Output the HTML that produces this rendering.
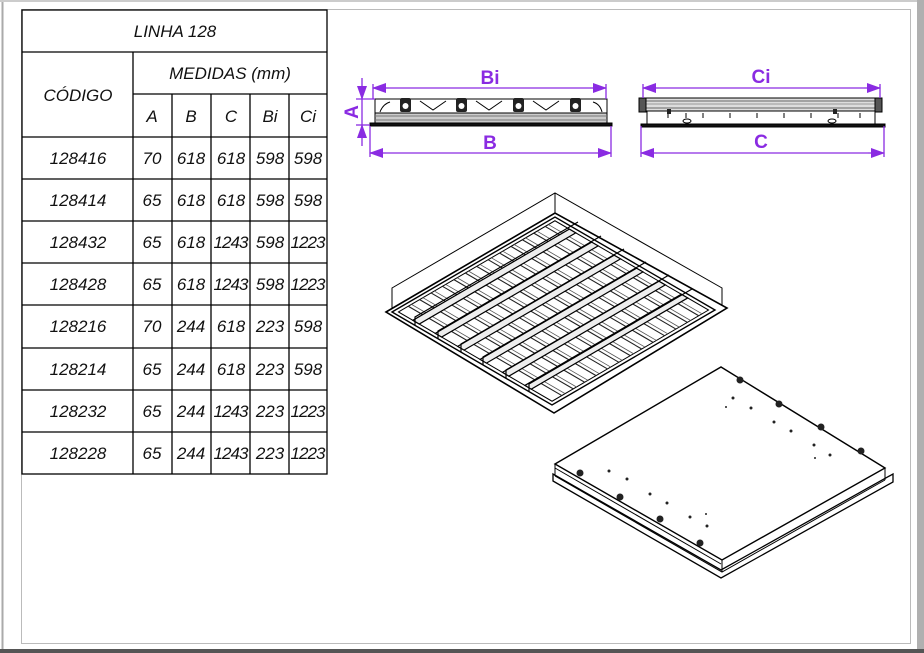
<!DOCTYPE html>
<html><head><meta charset="utf-8"><style>
html,body{margin:0;padding:0;background:#fff;width:924px;height:653px;overflow:hidden}
svg{display:block}
.t{font-family:"Liberation Sans",sans-serif;font-style:italic;font-size:17px;fill:#111;text-anchor:middle}
.p{font-family:"Liberation Sans",sans-serif;font-weight:bold;font-size:19px;fill:#8a2be2;text-anchor:middle}
</style></head><body>
<svg width="924" height="653" viewBox="0 0 924 653" xmlns="http://www.w3.org/2000/svg">
<defs>
<marker id="ar" markerWidth="14" markerHeight="10" refX="13" refY="5" orient="auto" markerUnits="userSpaceOnUse"><path d="M0,0 L14,5 L0,10 Z" fill="#8a2be2"/></marker>
</defs>
<rect x="0" y="0" width="924" height="653" fill="#fff"/>
<line x1="2.5" y1="0" x2="2.5" y2="653" stroke="#aaa" stroke-width="2"/>
<line x1="0" y1="1" x2="924" y2="1" stroke="#ccc" stroke-width="2"/>
<rect x="917" y="0" width="7" height="653" fill="#b0b0b0"/>
<rect x="0" y="649" width="924" height="4" fill="#555"/>
<rect x="21.5" y="9.5" width="889" height="634" fill="none" stroke="#bbb" stroke-width="1"/>

<g stroke="#000" stroke-width="1.3" fill="none">
<rect x="22" y="10" width="305" height="464"/>
<line x1="22" y1="52" x2="327" y2="52"/>
<line x1="133" y1="94" x2="327" y2="94"/>
<line x1="133" y1="52" x2="133" y2="474"/>
<line x1="172" y1="94" x2="172" y2="474"/>
<line x1="211" y1="94" x2="211" y2="474"/>
<line x1="250" y1="94" x2="250" y2="474"/>
<line x1="289" y1="94" x2="289" y2="474"/>
<line x1="22" y1="137" x2="327" y2="137"/>
<line x1="22" y1="179" x2="327" y2="179"/>
<line x1="22" y1="221" x2="327" y2="221"/>
<line x1="22" y1="263" x2="327" y2="263"/>
<line x1="22" y1="305" x2="327" y2="305"/>
<line x1="22" y1="348" x2="327" y2="348"/>
<line x1="22" y1="390" x2="327" y2="390"/>
<line x1="22" y1="432" x2="327" y2="432"/>
</g>
<text class="t" x="175" y="37">LINHA 128</text>
<text class="t" x="230" y="79">MEDIDAS (mm)</text>
<text class="t" x="78" y="101">CÓDIGO</text>
<text class="t" x="152" y="122">A</text><text class="t" x="191" y="122">B</text><text class="t" x="231" y="122">C</text><text class="t" x="270" y="122">Bi</text><text class="t" x="308" y="122">Ci</text>
<text class="t" x="78" y="164">128416</text><text class="t" x="152" y="164">70</text><text class="t" x="191" y="164">618</text><text class="t" x="231" y="164">618</text><text class="t" x="270" y="164">598</text><text class="t" x="308" y="164">598</text>
<text class="t" x="78" y="206">128414</text><text class="t" x="152" y="206">65</text><text class="t" x="191" y="206">618</text><text class="t" x="231" y="206">618</text><text class="t" x="270" y="206">598</text><text class="t" x="308" y="206">598</text>
<text class="t" x="78" y="248">128432</text><text class="t" x="152" y="248">65</text><text class="t" x="191" y="248">618</text><text class="t" x="231" y="248" textLength="35">1243</text><text class="t" x="270" y="248">598</text><text class="t" x="308" y="248" textLength="35">1223</text>
<text class="t" x="78" y="290">128428</text><text class="t" x="152" y="290">65</text><text class="t" x="191" y="290">618</text><text class="t" x="231" y="290" textLength="35">1243</text><text class="t" x="270" y="290">598</text><text class="t" x="308" y="290" textLength="35">1223</text>
<text class="t" x="78" y="332">128216</text><text class="t" x="152" y="332">70</text><text class="t" x="191" y="332">244</text><text class="t" x="231" y="332">618</text><text class="t" x="270" y="332">223</text><text class="t" x="308" y="332">598</text>
<text class="t" x="78" y="375">128214</text><text class="t" x="152" y="375">65</text><text class="t" x="191" y="375">244</text><text class="t" x="231" y="375">618</text><text class="t" x="270" y="375">223</text><text class="t" x="308" y="375">598</text>
<text class="t" x="78" y="417">128232</text><text class="t" x="152" y="417">65</text><text class="t" x="191" y="417">244</text><text class="t" x="231" y="417" textLength="35">1243</text><text class="t" x="270" y="417">223</text><text class="t" x="308" y="417" textLength="35">1223</text>
<text class="t" x="78" y="459">128228</text><text class="t" x="152" y="459">65</text><text class="t" x="191" y="459">244</text><text class="t" x="231" y="459" textLength="35">1243</text><text class="t" x="270" y="459">223</text><text class="t" x="308" y="459" textLength="35">1223</text>

<!-- elevation 1 -->
<g stroke="#000" fill="none" stroke-width="1">
<rect x="375" y="99" width="232" height="14" fill="#fff"/>
<rect x="375" y="113" width="232" height="11" fill="#ccc"/>
<line x1="375" y1="116" x2="607" y2="116" stroke="#777"/>
<line x1="375" y1="120" x2="607" y2="120" stroke="#777"/>
<rect x="370" y="123" width="242" height="3" fill="#111"/>
<path d="M420,101 L433,110 L446,101 M476,101 L489,110 L502,101 M533,101 L546,110 L559,101"/>
<path d="M380,112 Q383,104 390,102 M602,112 Q600,104 593,102"/>
</g>
<g fill="#222">
<rect x="400" y="98" width="11" height="14" rx="2"/><rect x="456" y="98" width="11" height="14" rx="2"/><rect x="513" y="98" width="11" height="14" rx="2"/><rect x="570" y="98" width="11" height="14" rx="2"/>
</g>
<g fill="#fff"><circle cx="405.5" cy="106" r="3"/><circle cx="461.5" cy="106" r="3"/><circle cx="518.5" cy="106" r="3"/><circle cx="575.5" cy="106" r="3"/></g>
<!-- elevation 2 -->
<g stroke="#000" fill="none" stroke-width="1">
<rect x="644" y="98" width="233" height="13" fill="#ddd"/>
<line x1="644" y1="101" x2="877" y2="101" stroke="#666"/>
<line x1="644" y1="104" x2="877" y2="104" stroke="#999"/>
<line x1="644" y1="108" x2="877" y2="108" stroke="#666"/>
<rect x="647" y="111" width="228" height="14" fill="#fff"/>
<rect x="641" y="124" width="244" height="3" fill="#111"/>
<rect x="639" y="98" width="7" height="14" fill="#555"/>
<rect x="875" y="98" width="7" height="14" fill="#555"/>
<path d="M668,113v5 M686,113v5 M703,113v5 M730,113v5 M757,113v5 M784,113v5 M811,113v5 M838,113v5 M860,113v5"/>
<ellipse cx="687" cy="121" rx="4" ry="2"/><ellipse cx="832" cy="121" rx="4" ry="2"/>
</g>
<rect x="667" y="109" width="4" height="5" fill="#222"/><rect x="833" y="109" width="4" height="5" fill="#222"/>

<g stroke="#8a2be2" stroke-width="1.3" fill="none">
<line x1="389" y1="88" x2="373" y2="88" marker-end="url(#ar)"/><line x1="590" y1="88" x2="606" y2="88" marker-end="url(#ar)"/><line x1="389" y1="88" x2="590" y2="88"/>
<line x1="386" y1="153" x2="370" y2="153" marker-end="url(#ar)"/><line x1="595" y1="153" x2="611" y2="153" marker-end="url(#ar)"/><line x1="386" y1="153" x2="595" y2="153"/>
<line x1="659" y1="88" x2="643" y2="88" marker-end="url(#ar)"/><line x1="864" y1="88" x2="880" y2="88" marker-end="url(#ar)"/><line x1="659" y1="88" x2="864" y2="88"/>
<line x1="657" y1="153" x2="641" y2="153" marker-end="url(#ar)"/><line x1="868" y1="153" x2="884" y2="153" marker-end="url(#ar)"/><line x1="657" y1="153" x2="868" y2="153"/>
<line x1="362" y1="78" x2="362" y2="99" marker-end="url(#ar)"/><line x1="362" y1="146" x2="362" y2="125" marker-end="url(#ar)"/><line x1="362" y1="99" x2="362" y2="125"/>
<line x1="356" y1="99" x2="375" y2="99"/><line x1="356" y1="125" x2="370" y2="125"/>
<line x1="370" y1="126" x2="370" y2="157"/><line x1="611" y1="126" x2="611" y2="157"/>
<line x1="641" y1="126" x2="641" y2="157"/><line x1="884" y1="126" x2="884" y2="157"/>
<line x1="373" y1="84" x2="373" y2="99"/><line x1="606" y1="84" x2="606" y2="99"/>
<line x1="643" y1="84" x2="643" y2="98"/><line x1="880" y1="84" x2="880" y2="98"/>
</g>
<text class="p" x="490" y="84">Bi</text>
<text class="p" x="490" y="149">B</text>
<text class="p" x="761" y="83">Ci</text>
<text class="p" x="761" y="148">C</text>
<text class="p" x="0" y="0" transform="translate(358,112) rotate(-90)">A</text>

<!-- isometric 1 (louvre) -->
<g stroke="#000" fill="none" stroke-width="1">
<path d="M392,310 L392,288 L555,193 L722,288 L722,306"/>
<line x1="555" y1="193" x2="555" y2="213"/>
<path d="M386,312 L555,213 L727,308 L554,413 Z" fill="#fff" stroke-width="1.6"/>
</g>
<g transform="matrix(1.63,-0.95,1.60,0.93,392,312)" fill="none" stroke="#000">
<rect x="0" y="0" width="100" height="100" stroke-width="1.4" vector-effect="non-scaling-stroke"/>
<rect x="2" y="2" width="96" height="96" stroke-width="1" vector-effect="non-scaling-stroke"/>
<path vector-effect="non-scaling-stroke" stroke="#222" stroke-width="1.1" d="M8,2V98 M15,2V98 M22,2V98 M29,2V98 M36,2V98 M43,2V98 M50,2V98 M57,2V98 M64,2V98 M71,2V98 M78,2V98 M85,2V98 M92,2V98"/>
<path vector-effect="non-scaling-stroke" stroke="#555" stroke-width="0.8" d="M10,2V98 M17,2V98 M24,2V98 M31,2V98 M38,2V98 M45,2V98 M52,2V98 M59,2V98 M66,2V98 M73,2V98 M80,2V98 M87,2V98 M94,2V98"/>
<g fill="#eee" stroke-width="1.2">
<rect vector-effect="non-scaling-stroke" x="2" y="11" width="96" height="4"/>
<rect vector-effect="non-scaling-stroke" x="2" y="25" width="96" height="4"/>
<rect vector-effect="non-scaling-stroke" x="2" y="39" width="96" height="4"/>
<rect vector-effect="non-scaling-stroke" x="2" y="53" width="96" height="4"/>
<rect vector-effect="non-scaling-stroke" x="2" y="67" width="96" height="4"/>
<rect vector-effect="non-scaling-stroke" x="2" y="81" width="96" height="4"/>
</g>
</g>
<g stroke="#000" stroke-width="1.2" fill="none">
<path d="M415,325 v-8 l163,-95 M438,339 v-8 l163,-95 M461,352 v-8 l163,-95 M483,365 v-8 l163,-95 M506,378 v-8 l163,-95 M529,392 v-8 l163,-95"/>
</g>

<!-- isometric 2 (back) -->
<g stroke="#000" fill="none" stroke-width="1">
<path d="M553,481 L721,578 L893,482 L893,474 L721,570 L553,474 Z" fill="#fff" stroke-width="1.3"/>
<path d="M555,476 L722,572 L885,480"/>
<path d="M555,464 L555,476 M722,560 L722,572 M885,468 L885,480"/>
<path d="M555,464 L721,367 L885,468 L722,560 Z" fill="#fff" stroke-width="1.4"/>
<line x1="555" y1="468" x2="721" y2="564"/>
</g>
<g fill="#222">
<circle cx="580" cy="473" r="3.5"/><circle cx="620" cy="497" r="3.5"/><circle cx="660" cy="519" r="3.5"/><circle cx="700" cy="543" r="3.5"/>
<circle cx="740" cy="380" r="3.5"/><circle cx="779" cy="404" r="3.5"/><circle cx="821" cy="427" r="3.5"/><circle cx="861" cy="451" r="3.5"/>
<circle cx="609" cy="471" r="1.5"/><circle cx="627" cy="479" r="1.5"/><circle cx="650" cy="494" r="1.5"/><circle cx="667" cy="503" r="1.5"/><circle cx="690" cy="517" r="1.5"/><circle cx="707" cy="526" r="1.5"/><circle cx="706" cy="514" r="1"/>
<circle cx="733" cy="398" r="1.5"/><circle cx="751" cy="408" r="1.5"/><circle cx="774" cy="422" r="1.5"/><circle cx="791" cy="431" r="1.5"/><circle cx="814" cy="445" r="1.5"/><circle cx="830" cy="455" r="1.5"/><circle cx="815" cy="458" r="1"/><circle cx="726" cy="407" r="1"/>
</g>
</svg>
</body></html>
